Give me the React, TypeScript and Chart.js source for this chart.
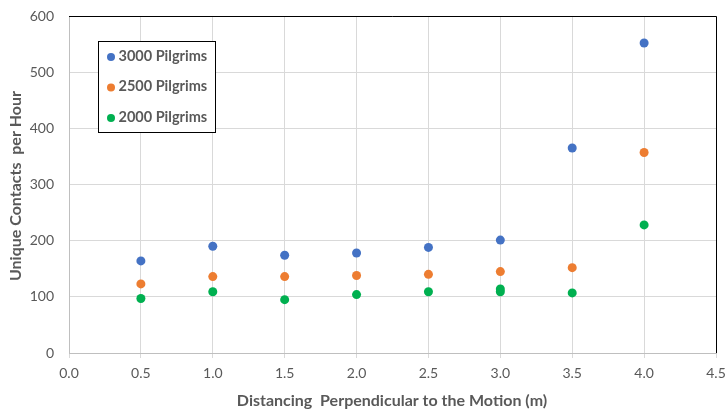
import React, { useEffect, useRef } from "react";
import { Chart, registerables } from "chart.js";

Chart.register(...registerables);

const xPositions = [0.5, 1.0, 1.5, 2.0, 2.5, 3.0, 3.5, 4.0];
const xPositions2000 = [0.5, 1.0, 1.5, 2.0, 2.5, 3.0, 3.0, 3.5, 4.0];
const contacts3000 = [164, 190, 174, 178, 188, 201, 365, 552];
const contacts2500 = [123, 136, 136, 138, 140, 145, 152, 357];
const contacts2000 = [97, 109, 95, 104, 109, 114, 109, 107, 228];
const seriesNames = ["3000 Pilgrims", "2500 Pilgrims", "2000 Pilgrims"];
const seriesColors = ["#4472C4", "#ED7D31", "#00B050"];
const xTitle = "Distancing  Perpendicular to the Motion (m)";
const yTitle = "Unique Contacts  per Hour";

const FONT = "Lato, 'Open Sans', sans-serif";
const TEXT = "#595959";

const overlay = {
  id: "overlay",
  afterDraw(chart: any) {
    const { ctx, chartArea } = chart;
    const { left, right, top, bottom } = chartArea;
    ctx.save();
    ctx.strokeStyle = "#000";
    ctx.lineWidth = 1;
    ctx.beginPath();
    ctx.moveTo(left, top + 0.5);
    ctx.lineTo(right + 0.5, top + 0.5);
    ctx.lineTo(right + 0.5, bottom);
    ctx.stroke();
    ctx.fillStyle = TEXT;
    ctx.font = `bold 16px ${FONT}`;
    ctx.textAlign = "center";
    ctx.textBaseline = "middle";
    ctx.fillText(xTitle, 392, 401);
    ctx.save();
    ctx.translate(16, 186);
    ctx.rotate(-Math.PI / 2);
    ctx.fillText(yTitle, 0, 0);
    ctx.restore();
    const lx = 98, ly = 41, lw = 117, lh = 91;
    ctx.fillStyle = "#fff";
    ctx.fillRect(lx, ly, lw, lh);
    ctx.strokeStyle = "#000";
    ctx.strokeRect(lx + 0.5, ly + 0.5, lw, lh);
    ctx.font = `bold 14.5px ${FONT}`;
    ctx.textAlign = "left";
    seriesNames.forEach((name, i) => {
      const y = 56 + i * 30.5;
      ctx.fillStyle = seriesColors[i];
      ctx.beginPath();
      ctx.arc(111, y + 1, 4, 0, Math.PI * 2);
      ctx.fill();
      ctx.fillStyle = TEXT;
      ctx.fillText(name, 118.5, y);
    });
    ctx.restore();
  },
};

export default function App() {
  const ref = useRef<HTMLCanvasElement>(null);
  useEffect(() => {
    document.body.style.margin = "0";
    const mk = (xs: number[], ys: number[]) => xs.map((x, i) => ({ x, y: ys[i] }));
    const chart = new Chart(ref.current!, {
      type: "scatter",
      data: {
        datasets: [
          { label: seriesNames[0], data: mk(xPositions, contacts3000), backgroundColor: seriesColors[0], borderColor: seriesColors[0], pointRadius: 4.5, borderWidth: 0 },
          { label: seriesNames[1], data: mk(xPositions, contacts2500), backgroundColor: seriesColors[1], borderColor: seriesColors[1], pointRadius: 4.5, borderWidth: 0 },
          { label: seriesNames[2], data: mk(xPositions2000, contacts2000), backgroundColor: seriesColors[2], borderColor: seriesColors[2], pointRadius: 4.5, borderWidth: 0 },
        ],
      },
      options: {
        responsive: false,
        animation: false,
        layout: { padding: { left: 0, right: 11, top: 16, bottom: 0 } },
        plugins: { legend: { display: false }, tooltip: { enabled: false } },
        scales: {
          x: {
            type: "linear",
            min: 0,
            max: 4.5,
            afterFit: (s: any) => { s.height = 61; s.paddingLeft = 0; s.paddingRight = 0; },
            ticks: {
              stepSize: 0.5,
              color: TEXT,
              font: { family: FONT, size: 14 },
              padding: 7,
              callback: (v: any) => Number(v).toFixed(1),
            },
            grid: { color: "#D9D9D9", tickLength: 5, drawTicks: true },
            border: { color: "#BFBFBF" },
          },
          y: {
            min: 0,
            max: 600,
            afterFit: (s: any) => { s.width = 69; s.paddingTop = 0; s.paddingBottom = 0; },
            ticks: {
              stepSize: 100,
              color: TEXT,
              font: { family: FONT, size: 14 },
              padding: 15,
            },
            grid: { color: "#D9D9D9", drawTicks: false },
            border: { color: "#BFBFBF" },
          },
        },
      },
      plugins: [overlay],
    } as any);
    return () => chart.destroy();
  }, []);
  return (
    <div style={{ position: "absolute", left: 0, top: 0, width: 727, height: 414 }}>
      <canvas ref={ref} width={727} height={414} style={{ width: 727, height: 414 }} />
    </div>
  );
}
